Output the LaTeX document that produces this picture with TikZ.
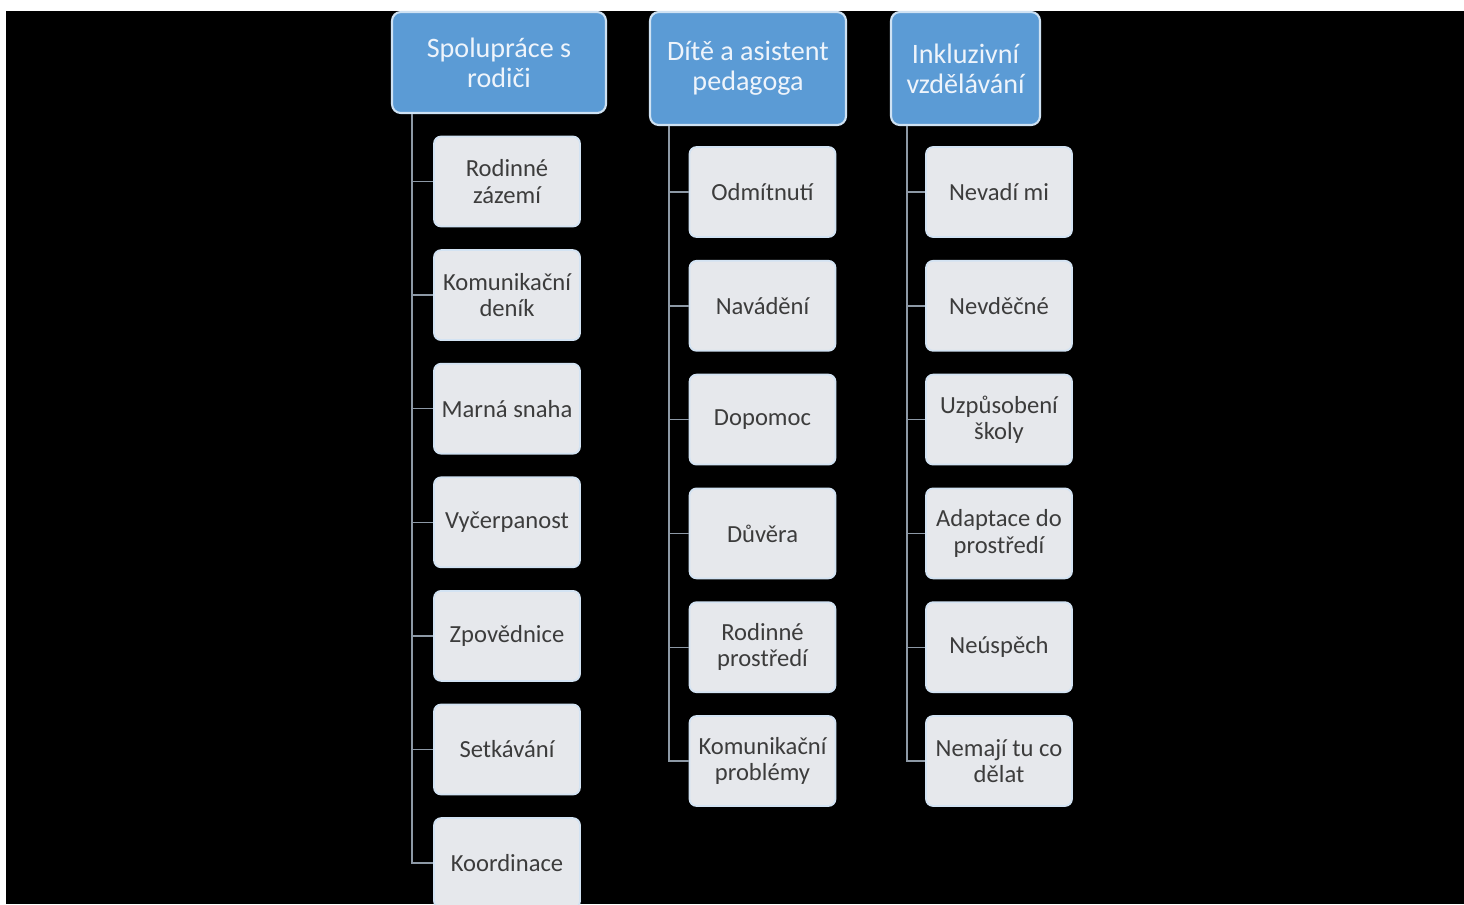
\documentclass[tikz,border=0pt]{standalone}
\usepackage{fontspec}
\setmainfont{Carlito}
\usepackage{xcolor}
\definecolor{headblue}{HTML}{5B9BD5}
\definecolor{headline}{HTML}{CFE2F3}
\definecolor{headtext}{HTML}{EEF4FB}
\definecolor{itemfill}{HTML}{E6E8EC}
\definecolor{itemline}{HTML}{D3E3F3}
\definecolor{itemtext}{HTML}{3C3C3C}
\definecolor{linkgray}{HTML}{8D99A6}
\usepackage{tikz}
\usetikzlibrary{calc}

\begin{document}
\begin{tikzpicture}[x=0.02cm, y=-0.02cm,
    headbox/.style={draw=headline, line width=1.2pt, fill=headblue, rounded corners=5pt, align=center, text=headtext, font=\fontsize{16}{17}\selectfont},
    itembox/.style={draw=itemline, line width=1pt, fill=itemfill, rounded corners=4pt, align=center, text=itemtext, minimum width=2.92cm, minimum height=1.8cm, font=\fontsize{14}{15}\selectfont},
    link/.style={draw=linkgray, line width=0.8pt}]
    % background and frame
    \fill[white] (0,0) rectangle (1464,904);
    \fill[black] (6,11) rectangle (1464,904);
    \useasboundingbox (0,0) rectangle (1464,904);
    % headers
    \node[headbox, minimum width=4.28cm, minimum height=2.02cm] (h1) at (499,62.5) {Spolupráce s\\rodiči};
    \node[headbox, minimum width=3.92cm, minimum height=2.26cm] (h2) at (748,68.5) {Dítě a asistent\\pedagoga};
    \node[headbox, minimum width=2.98cm, minimum height=2.26cm] (h3) at (965.5,68.5) {Inkluzivní\\vzdělávání};
    \coordinate (t1) at ([xshift=0.42cm]h1.south west);
    \coordinate (t2) at ([xshift=0.40cm]h2.south west);
    \coordinate (t3) at ([xshift=0.34cm]h3.south west);
    % first column
    \foreach \i/\txt in {1/Rodinné\\zázemí, 2/Komunikační\\deník, 3/Marná snaha, 4/Vyčerpanost, 5/Zpovědnice, 6/Setkávání, 7/Koordinace} {
        \node[itembox] (a\i) at (507, {181.5+(\i-1)*113.6}) {\txt};
        \draw[link] (t1) |- (a\i.west);
    }
    % second column
    \foreach \i/\txt in {1/Odmítnutí, 2/Navádění, 3/Dopomoc, 4/Důvěra, 5/Rodinné\\prostředí, 6/Komunikační\\problémy} {
        \node[itembox] (b\i) at (762.5, {192+(\i-1)*113.8}) {\txt};
        \draw[link] (t2) |- (b\i.west);
    }
    % third column
    \foreach \i/\txt in {1/Nevadí mi, 2/Nevděčné, 3/Uzpůsobení\\školy, 4/Adaptace do\\prostředí, 5/Neúspěch, 6/Nemají tu co\\dělat} {
        \node[itembox] (c\i) at (999, {192+(\i-1)*113.8}) {\txt};
        \draw[link] (t3) |- (c\i.west);
    }
\end{tikzpicture}
\end{document}
